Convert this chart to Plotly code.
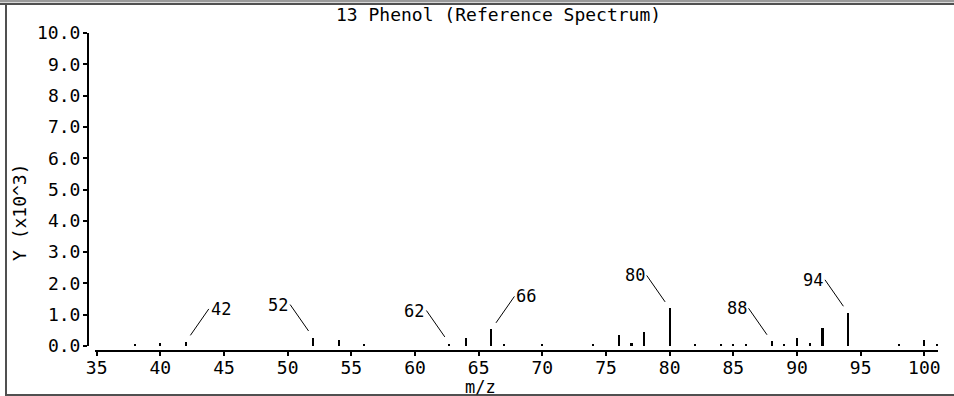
import plotly.graph_objects as go

# ---- data ----
mz = [38, 40, 42, 52, 54, 56, 62.7, 64, 66, 67, 70, 74, 76, 77, 78, 80,
      82, 84, 85, 86, 88, 89, 90, 91, 92, 94, 98, 100, 101]
intensity = [0.06, 0.09, 0.13, 0.27, 0.2, 0.06, 0.08, 0.26, 0.53, 0.06, 0.06, 0.06,
             0.34, 0.1, 0.45, 1.2, 0.08, 0.06, 0.06, 0.06, 0.15, 0.06, 0.27, 0.1,
             0.58, 1.06, 0.06, 0.2, 0.06]

label_mz = [42, 52, 62.7, 66, 80, 88, 94]
label_text = ["42", "52", "62", "66", "80", "88", "94"]
label_side = [1, -1, -1, 1, -1, -1, -1]   # +1: label to the right, -1: to the left

x_ticks = list(range(35, 101, 5))
y_ticks = list(range(0, 11))

title = "13 Phenol (Reference Spectrum)"
x_title = "m/z"
y_title = "Y (x10^3)"

# ---- figure ----
W, H = 954, 396
FONT = "DejaVu Sans Mono"
FS = 18
FS_LAB = 17

def px(x):
    return x / W

def py(y):
    return 1 - y / H

fig = go.Figure()
fig.add_trace(go.Bar(x=mz, y=intensity, width=0.16,
                     marker=dict(color="black", line=dict(width=0)),
                     hoverinfo="x+y"))

height_of = dict(zip(mz, intensity))
for m, t, s in zip(label_mz, label_text, label_side):
    fig.add_annotation(x=m, y=height_of[m], xref="x", yref="y", text=t,
                       showarrow=True, arrowhead=0, arrowwidth=1, arrowcolor="black",
                       ax=23 * s, ay=-33, standoff=8,
                       xanchor="left" if s > 0 else "right", yanchor="middle",
                       font=dict(family=FONT, size=FS_LAB, color="black"))

fig.add_annotation(x=px(498), y=py(15), xref="paper", yref="paper", text=title,
                   showarrow=False, xanchor="center", yanchor="middle",
                   font=dict(family=FONT, size=FS, color="black"))
fig.add_annotation(x=px(480), y=py(387), xref="paper", yref="paper", text=x_title,
                   showarrow=False, xanchor="center", yanchor="middle",
                   font=dict(family=FONT, size=FS_LAB, color="black"))
fig.add_annotation(x=px(19), y=py(212), xref="paper", yref="paper", text=y_title,
                   showarrow=False, textangle=-90, xanchor="center", yanchor="middle",
                   font=dict(family=FONT, size=FS, color="black"))

# frame
shapes = [
    dict(type="rect", xref="paper", yref="paper", x0=0, x1=1, y0=py(2), y1=py(0),
         fillcolor="#9a9a9a", line=dict(width=0)),
    dict(type="rect", xref="paper", yref="paper", x0=0, x1=1, y0=py(3), y1=py(2),
         fillcolor="#d8d8d8", line=dict(width=0)),
    dict(type="rect", xref="paper", yref="paper", x0=0, x1=1, y0=py(5), y1=py(3),
         fillcolor="#505050", line=dict(width=0)),
    dict(type="rect", xref="paper", yref="paper", x0=px(5), x1=px(7), y0=py(396), y1=py(5),
         fillcolor="#505050", line=dict(width=0)),
    dict(type="rect", xref="paper", yref="paper", x0=px(5), x1=1, y0=py(396), y1=py(394),
         fillcolor="#505050", line=dict(width=0)),
]

fig.update_layout(
    template="none",
    width=W, height=H, margin=dict(l=0, r=0, t=0, b=0, pad=0, autoexpand=False),
    paper_bgcolor="white", plot_bgcolor="white", showlegend=False,
    shapes=shapes, bargap=0,
    xaxis=dict(domain=[px(95), px(938)], range=[34.87, 101.07], anchor="free",
               position=py(351), tickvals=x_ticks, ticks="outside", ticklen=4,
               tickwidth=2, tickcolor="black", showline=True, linecolor="black",
               linewidth=2, showgrid=False, zeroline=False, automargin=False,
               ticklabelstandoff=-4,
               tickfont=dict(family=FONT, size=FS, color="black")),
    yaxis=dict(domain=[py(346), py(33)], range=[0, 10], anchor="free",
               position=px(88), tickvals=y_ticks, tickformat=".1f", ticks="outside",
               ticklen=4, tickwidth=2, tickcolor="black", showline=True,
               linecolor="black", linewidth=2, showgrid=False, zeroline=False,
               automargin=False, ticklabelstandoff=-1,
               tickfont=dict(family=FONT, size=FS, color="black")),
)

fig.write_html("out.html", config={"displayModeBar": False},
               post_script="document.body.style.margin='0';"
                           "document.body.style.overflow='hidden';")
